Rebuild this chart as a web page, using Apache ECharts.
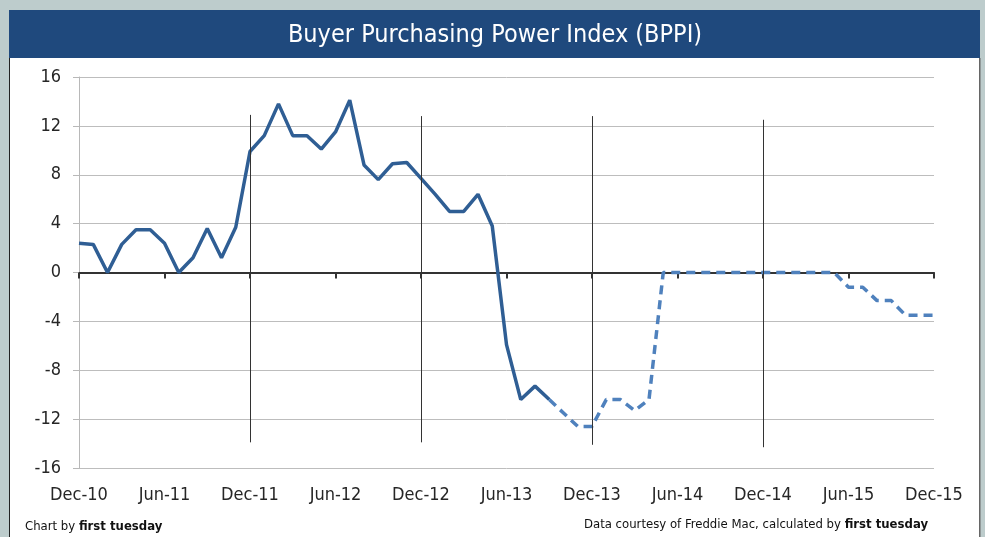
<!DOCTYPE html>
<html>
<head>
<meta charset="utf-8">
<script src="https://cdn.jsdelivr.net/npm/echarts@6/dist/echarts.min.js"></script>
<style>
  html, body { margin: 0; padding: 0; background: #bdcccc; }
  #chart { width: 985px; height: 537px; }
</style>
</head>
<body>
<div id="chart"></div>
<script>
var months = [
    'Dec-10','Jan-11','Feb-11','Mar-11','Apr-11','May-11','Jun-11','Jul-11','Aug-11','Sep-11','Oct-11','Nov-11',
    'Dec-11','Jan-12','Feb-12','Mar-12','Apr-12','May-12','Jun-12','Jul-12','Aug-12','Sep-12','Oct-12','Nov-12',
    'Dec-12','Jan-13','Feb-13','Mar-13','Apr-13','May-13','Jun-13','Jul-13','Aug-13','Sep-13','Oct-13','Nov-13',
    'Dec-13','Jan-14','Feb-14','Mar-14','Apr-14','May-14','Jun-14','Jul-14','Aug-14','Sep-14','Oct-14','Nov-14',
    'Dec-14','Jan-15','Feb-15','Mar-15','Apr-15','May-15','Jun-15','Jul-15','Aug-15','Sep-15','Oct-15','Nov-15',
    'Dec-15'
];
// actual index, Dec-10 .. Sep-13
var actual = [2.4, 2.3, 0.0, 2.3, 3.5, 3.5, 2.4, 0.0, 1.2, 3.6, 1.2, 3.7,
    9.9, 11.2, 13.8, 11.2, 11.2, 10.1, 11.5, 14.1, 8.8, 7.6, 8.9, 9.0,
    7.7, 6.4, 5.0, 5.0, 6.4, 3.8, -5.9, -10.4, -9.3, -10.4];
// forecast, Sep-13 .. Dec-15
var forecast = [-10.4, -11.5, -12.6, -12.6, -10.4, -10.4, -11.3, -10.4, 0,
    0, 0, 0, 0, 0, 0, 0, 0, 0, 0, 0, 0,
    -1.2, -1.2, -2.3, -2.3, -3.5, -3.5, -3.5];
var yTicks = {min: -16, max: 16, step: 4};
// vertical year markers: [month, top, bottom]
var markers = [['Dec-11', 12.9, -13.9], ['Dec-12', 12.8, -13.9], ['Dec-13', 12.8, -14.1], ['Dec-14', 12.5, -14.3]];

var startF = actual.length - 1;
var actualData = months.map(function (m, i) { return i < actual.length ? actual[i] : null; });
var forecastData = months.map(function (m, i) { return i >= startF ? forecast[i - startF] : null; });

var font = '"Liberation Sans Narrow", "DejaVu Sans Condensed", sans-serif';

var myChart = echarts.init(document.getElementById('chart'));
option = {
    animation: false,
    title: {
        text: 'Buyer Purchasing Power Index (BPPI)',
        left: 490,
        top: 18,
        textAlign: 'center',
        textStyle: {color: '#ffffff', fontSize: 25, fontWeight: 'normal', fontFamily: font}
    },
    graphic: [
        {type: 'rect', z: -10, shape: {x: 9, y: 10, width: 971, height: 48}, style: {fill: '#1f497d'}},
        {type: 'rect', z: -10, shape: {x: 9, y: 58, width: 970, height: 480}, style: {fill: '#ffffff'}},
        {type: 'rect', z: -9, shape: {x: 9, y: 58, width: 1, height: 480}, style: {fill: '#222222'}},
        {type: 'rect', z: -9, shape: {x: 979, y: 58, width: 1.5, height: 480}, style: {fill: '#666666'}},
        {
            type: 'text', left: 25, top: 520,
            style: {
                text: 'Chart by {b|first tuesday}',
                font: '13px ' + font, fill: '#111',
                rich: {b: {fontWeight: 'bold', fontSize: 13, fontFamily: font, fill: '#111'}}
            }
        },
        {
            type: 'text', right: 57, top: 518,
            style: {
                text: 'Data courtesy of Freddie Mac, calculated by {b|first tuesday}',
                font: '13px ' + font, fill: '#111',
                rich: {b: {fontWeight: 'bold', fontSize: 13, fontFamily: font, fill: '#111'}}
            }
        }
    ],
    grid: {left: 79, right: 51, top: 77, bottom: 69},
    xAxis: [
        {
            type: 'category',
            data: months,
            boundaryGap: false,
            position: 'bottom',
            axisLine: {show: false, onZero: false},
            axisTick: {show: false},
            splitLine: {show: false},
            axisLabel: {interval: 5, margin: 18, color: '#262626', fontSize: 18, fontFamily: font}
        },
        {
            type: 'category',
            data: months,
            boundaryGap: false,
            position: 'bottom',
            axisLine: {show: true, onZero: true, lineStyle: {color: '#333333', width: 2}},
            axisTick: {show: true, interval: 5, length: 6, lineStyle: {color: '#333333', width: 2}},
            axisLabel: {show: false},
            splitLine: {show: false}
        }
    ],
    yAxis: {
        type: 'value',
        min: yTicks.min,
        max: yTicks.max,
        interval: yTicks.step,
        axisLine: {show: true, lineStyle: {color: '#b8b8b8'}},
        axisTick: {show: true, length: 6, lineStyle: {color: '#b8b8b8'}},
        splitLine: {lineStyle: {color: '#bdbdbd', width: 1}},
        axisLabel: {margin: 18, color: '#262626', fontSize: 18, fontFamily: font}
    },
    series: [
        {
            name: 'BPPI',
            type: 'line',
            data: actualData,
            showSymbol: false,
            symbol: 'none',
            lineStyle: {color: '#2f5e94', width: 3.5},
            z: 3,
            markLine: {
                silent: true,
                symbol: 'none',
                label: {show: false},
                lineStyle: {color: '#333333', width: 1, type: 'solid'},
                data: markers.map(function (m) {
                    return [{coord: [m[0], m[1]]}, {coord: [m[0], m[2]]}];
                })
            }
        },
        {
            name: 'BPPI forecast',
            type: 'line',
            data: forecastData,
            showSymbol: false,
            symbol: 'none',
            lineStyle: {color: '#4f81bd', width: 3.5, type: [9, 6]},
            z: 3
        }
    ]
};
myChart.setOption(option);
</script>
</body>
</html>
